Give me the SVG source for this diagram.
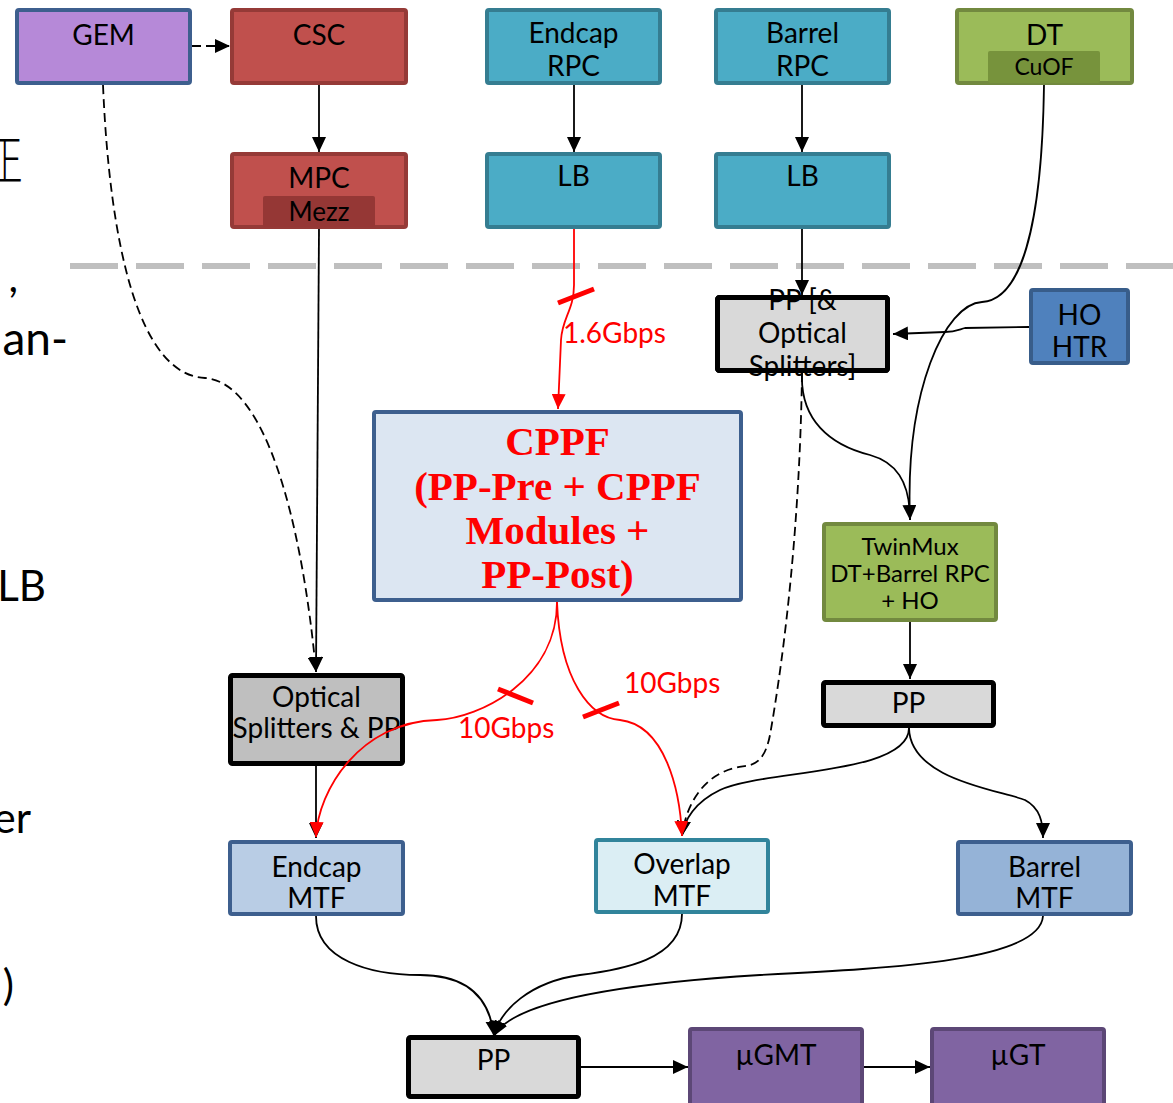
<svg xmlns="http://www.w3.org/2000/svg" width="1173" height="1103" viewBox="0 0 1173 1103">
  <defs>
    <marker id="ah" markerUnits="userSpaceOnUse" markerWidth="16" markerHeight="14" refX="15" refY="7" orient="auto">
      <path d="M0,0 L15,7 L0,14 Z" fill="#000"/>
    </marker>
    <marker id="ahr" markerUnits="userSpaceOnUse" markerWidth="16" markerHeight="14" refX="15" refY="7" orient="auto">
      <path d="M0,0 L15,7 L0,14 Z" fill="#ff0000"/>
    </marker>
  </defs>
  <style>
    text { font-family: Lato, "Liberation Sans", sans-serif; fill: #000; }
    .lbl { font-size: 28px; text-anchor: middle; }
    .sm { font-size: 24px; text-anchor: middle; }
    .sub { font-size: 23px; text-anchor: middle; }
    .frag { font-size: 42px; text-anchor: end; }
    .cppf { font-family: "Liberation Serif", "Times New Roman", serif; font-weight: bold; font-size: 41px; fill: #ff0000; text-anchor: middle; }
    .rate { font-size: 28px; fill: #ff0000; }
    .box { stroke-width: 4; }
    .pp { fill: #d9d9d9; stroke: #000; stroke-width: 5; }
    .red-n { fill: #c0504d; stroke: #953a37; }
    .teal { fill: #4bacc6; stroke: #357d91; }
    .green { fill: #9bbb59; stroke: #72893f; }
    .blue-e { stroke: #3d5f8e; }
    .purple { fill: #8064a2; stroke: #5c4776; }
    .ln { fill: none; stroke: #000; stroke-width: 1.8; }
    .dash { stroke-dasharray: 9 5; }
    .rl { fill: none; stroke: #ff0000; stroke-width: 1.8; }
    .tick { stroke: #ff0000; stroke-width: 5; }
  </style>

  <rect width="1173" height="1103" fill="#fff"/>

  <!-- text running off the left edge of the page -->
  <g id="edge-text">
    <text transform="translate(4,180) scale(0.7,1)" style="font-family:'Noto Sans CJK SC',serif;font-size:54px;text-anchor:middle;font-weight:300">正</text>
    <text class="frag" x="18" y="292">,</text>
    <text class="frag" x="68" y="355" style="font-size:46px">an-</text>
    <text class="frag" x="46" y="601">LB</text>
    <text class="frag" x="31" y="833">er</text>
    <text class="frag" x="14" y="1000">)</text>
  </g>

  <!-- boundary between on-detector and counting-room electronics -->
  <line id="separator" x1="70" y1="266" x2="1173" y2="266" stroke="#bfbfbf" stroke-width="6" stroke-dasharray="48 18"/>

  <g id="gem">
    <rect class="box" x="17" y="10" width="173" height="73" rx="2" fill="#b689d8" stroke="#3d5f8e"/>
    <text class="lbl" x="103.5" y="45">GEM</text>
  </g>
  <g id="csc">
    <rect class="box red-n" x="232" y="10" width="174" height="73" rx="2"/>
    <text class="lbl" x="319" y="45">CSC</text>
  </g>
  <g id="mpc">
    <rect class="box red-n" x="232" y="154" width="174" height="73" rx="2"/>
    <rect x="263" y="196" width="112" height="31" rx="2" fill="#953735"/>
    <text class="lbl" x="319" y="188">MPC</text>
    <text class="sub" x="319" y="221" style="font-size:26px">Mezz</text>
  </g>
  <g id="endcap-rpc">
    <rect class="box teal" x="487" y="10" width="173" height="73" rx="2"/>
    <text class="lbl" x="573.5" y="43">Endcap</text>
    <text class="lbl" x="573.5" y="76">RPC</text>
  </g>
  <g id="barrel-rpc">
    <rect class="box teal" x="716" y="10" width="173" height="73" rx="2"/>
    <text class="lbl" x="802.5" y="43">Barrel</text>
    <text class="lbl" x="802.5" y="76">RPC</text>
  </g>
  <g id="lb-endcap">
    <rect class="box teal" x="487" y="154" width="173" height="73" rx="2"/>
    <text class="lbl" x="573.5" y="186">LB</text>
  </g>
  <g id="lb-barrel">
    <rect class="box teal" x="716" y="154" width="173" height="73" rx="2"/>
    <text class="lbl" x="802.5" y="186">LB</text>
  </g>
  <g id="dt">
    <rect class="box green" x="957" y="10" width="175" height="73" rx="2"/>
    <rect x="988" y="51" width="112" height="32" rx="2" fill="#77933c"/>
    <text class="lbl" x="1044.5" y="45">DT</text>
    <text class="sub" x="1044" y="75">CuOF</text>
  </g>
  <g id="pp-optical-splitters">
    <rect class="pp" x="717.5" y="297.5" width="170" height="73" rx="2"/>
    <text class="lbl" x="802.5" y="310">PP [&amp;</text>
    <text class="lbl" x="802.5" y="343">Optical</text>
    <text class="lbl" x="802.5" y="376">Splitters]</text>
    <rect x="717.5" y="297.5" width="170" height="73" rx="2" fill="none" stroke="#000" stroke-width="5"/>
  </g>
  <g id="ho-htr">
    <rect class="box" x="1031" y="290" width="97" height="73" rx="2" fill="#4f81bd" stroke="#385d8a"/>
    <text class="lbl" x="1079.5" y="325">HO</text>
    <text class="lbl" x="1079.5" y="357">HTR</text>
  </g>
  <g id="cppf">
    <rect class="box" x="374" y="412" width="367" height="188" rx="2" fill="#dce6f2" stroke="#3d5f8e"/>
    <text class="cppf" x="557.5" y="455">CPPF</text>
    <text class="cppf" x="557.5" y="500">(PP-Pre + CPPF</text>
    <text class="cppf" x="557.5" y="544">Modules +</text>
    <text class="cppf" x="557.5" y="588">PP-Post)</text>
  </g>
  <g id="optical-splitters-pp">
    <rect x="230.5" y="675.5" width="172" height="88" rx="2" fill="#bfbfbf" stroke="#000" stroke-width="5"/>
    <text class="lbl" x="316.5" y="707">Optical</text>
    <text class="lbl" x="316.5" y="738">Splitters &amp; PP</text>
  </g>
  <g id="twinmux">
    <rect class="box green" x="824" y="524" width="172" height="96" rx="2"/>
    <text class="sm" x="910" y="555">TwinMux</text>
    <text class="sm" x="910" y="582">DT+Barrel RPC</text>
    <text class="sm" x="910" y="609">+ HO</text>
  </g>
  <g id="pp-barrel">
    <rect class="pp" x="823.5" y="682.5" width="170" height="43" rx="2"/>
    <text class="lbl" x="908.5" y="713">PP</text>
  </g>
  <g id="endcap-mtf">
    <rect class="box blue-e" x="230" y="842" width="173" height="72" rx="2" fill="#b9cde5"/>
    <text class="lbl" x="316.5" y="877">Endcap</text>
    <text class="lbl" x="316.5" y="908">MTF</text>
  </g>
  <g id="overlap-mtf">
    <rect class="box" x="596" y="840" width="172" height="72" rx="2" fill="#dbeef4" stroke="#31849b"/>
    <text class="lbl" x="682" y="874">Overlap</text>
    <text class="lbl" x="682" y="906">MTF</text>
  </g>
  <g id="barrel-mtf">
    <rect class="box blue-e" x="958" y="842" width="173" height="72" rx="2" fill="#95b3d7"/>
    <text class="lbl" x="1044.5" y="877">Barrel</text>
    <text class="lbl" x="1044.5" y="908">MTF</text>
  </g>
  <g id="pp-final">
    <rect class="pp" x="408.5" y="1037.5" width="170" height="59" rx="2"/>
    <text class="lbl" x="493.5" y="1070">PP</text>
  </g>
  <g id="ugmt">
    <rect class="box purple" x="690" y="1029" width="172" height="80" rx="2"/>
    <text class="lbl" x="776" y="1065">µGMT</text>
  </g>
  <g id="ugt">
    <rect class="box purple" x="932" y="1029" width="172" height="80" rx="2"/>
    <text class="lbl" x="1018" y="1065">µGT</text>
  </g>

  <g id="connectors">
    <!-- GEM to CSC and GEM to optical splitters (dashed) -->
    <path class="ln dash" d="M192,46 L230,46" marker-end="url(#ah)"/>
    <path class="ln dash" d="M103,85 C110,250 140,375 205,378 C265,382 302,520 316,672" marker-end="url(#ah)"/>
    <!-- CSC chain -->
    <path class="ln" d="M319,85 L319,152" marker-end="url(#ah)"/>
    <path class="ln" d="M319,229 L316,672" marker-end="url(#ah)"/>
    <path class="ln" d="M316,766 L316,838" marker-end="url(#ah)"/>
    <!-- RPC to link boards -->
    <path class="ln" d="M574,85 L574,152" marker-end="url(#ah)"/>
    <path class="ln" d="M802,85 L802,152" marker-end="url(#ah)"/>
    <path class="ln" d="M802,229 L802,295" marker-end="url(#ah)"/>
    <!-- HO into PP -->
    <path class="ln" d="M1029,327 L965,328 C958,330 955,332 945,332 L893,334" marker-end="url(#ah)"/>
    <!-- DT CuOF into TwinMux -->
    <path class="ln" d="M1044,85 C1042,230 1020,300 982,302 C945,304 905,390 910,520" marker-end="url(#ah)"/>
    <!-- PP to TwinMux -->
    <path class="ln" d="M802,373 C800,420 830,445 870,455 C895,462 910,480 910,520"/>
    <!-- PP to overlap MTF (dashed) -->
    <path class="ln dash" d="M802,373 C800,520 785,650 770,735 C763,770 748,764 735,768 C700,776 685,810 682,836" marker-end="url(#ah)"/>
    <path class="ln" d="M910,622 L910,679" marker-end="url(#ah)"/>
    <path class="ln" d="M909,728 C909,775 760,770 720,790 C695,802 684,820 682,836" marker-end="url(#ah)"/>
    <path class="ln" d="M909,728 C910,780 1000,790 1025,800 C1040,808 1043,822 1043,838" marker-end="url(#ah)"/>
    <!-- MTFs into final PP -->
    <path class="ln" d="M316,916 C316,960 370,975 420,975 C470,975 490,1000 494,1036" marker-end="url(#ah)"/>
    <path class="ln" d="M682,914 C682,960 620,970 580,975 C530,982 500,1010 494,1036" marker-end="url(#ah)"/>
    <path class="ln" d="M1043,916 C1040,960 900,968 760,975 C600,985 510,1005 494,1036" marker-end="url(#ah)"/>
    <path class="ln" d="M581,1067 L688,1067" marker-end="url(#ah)"/>
    <path class="ln" d="M864,1067 L930,1067" marker-end="url(#ah)"/>

    <!-- optical links through CPPF -->
    <path class="rl" d="M574,229 L574,285 C574,310 562,318 561,340 L558,409" marker-end="url(#ahr)"/>
    <line class="tick" x1="558" y1="303" x2="594" y2="289"/>
    <text class="rate" x="563" y="343">1.6Gbps</text>
    <path class="rl" d="M557,602 C557,680 480,718 437,720 C360,722 318,790 316,837" marker-end="url(#ahr)"/>
    <line class="tick" x1="498" y1="689" x2="533" y2="703"/>
    <text class="rate" x="458" y="738">10Gbps</text>
    <path class="rl" d="M557,602 C560,680 590,718 620,720 C665,725 680,790 682,836" marker-end="url(#ahr)"/>
    <line class="tick" x1="583" y1="717" x2="619" y2="703"/>
    <text class="rate" x="624" y="693">10Gbps</text>
  </g>
</svg>
